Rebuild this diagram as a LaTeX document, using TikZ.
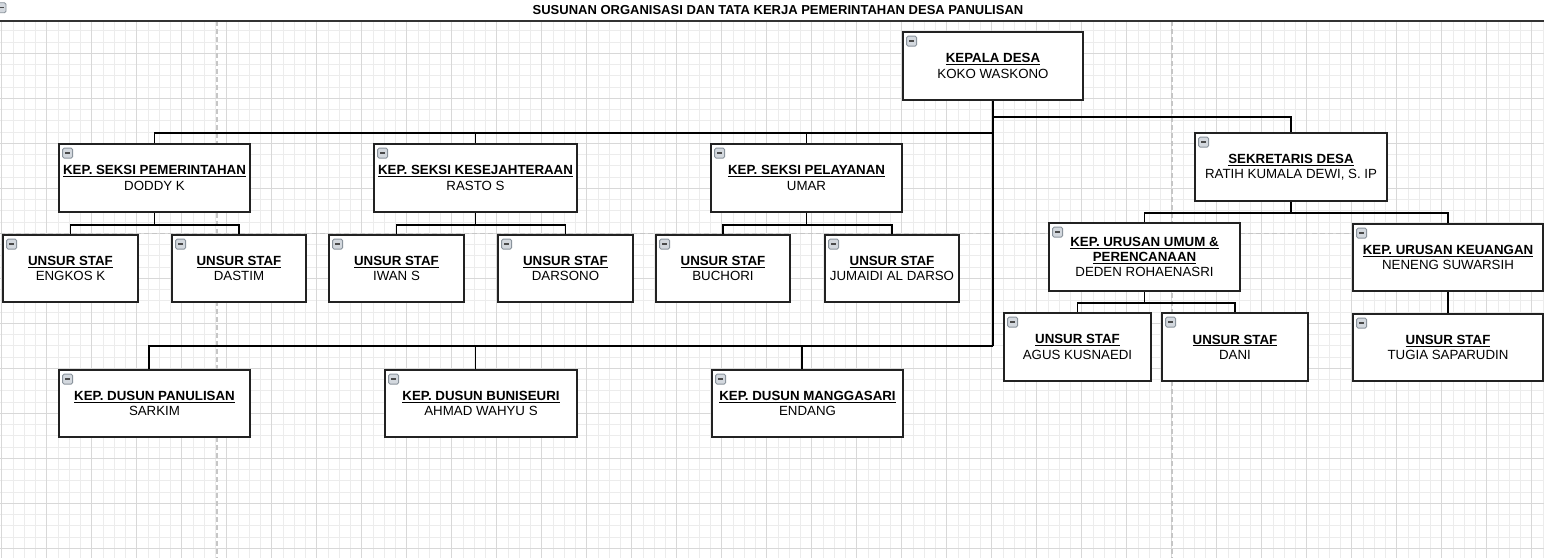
\documentclass[tikz,border=0pt]{standalone}
\usepackage{fontspec}
\setmainfont{Liberation Sans}
\usetikzlibrary{calc}
\pgfdeclarelayer{background}
\pgfsetlayers{background,main}
\definecolor{gridminor}{HTML}{ECECEC}
\definecolor{gridmajor}{HTML}{D8D8D8}
\definecolor{pagebrk}{HTML}{C6C6C6}
\definecolor{boxline}{HTML}{222222}
\definecolor{iconfill}{HTML}{D3D8DE}
\definecolor{iconline}{HTML}{8A939C}
\definecolor{iconminus}{HTML}{4A4A4A}
\definecolor{titleline}{HTML}{333333}
\tikzset{
  orgbox/.style={draw=boxline, line width=1.8pt, fill=white, inner sep=0pt,
    align=center, font=\fontsize{13.3}{15.2}\selectfont},
  conn/.style={draw=black, line width=1.8pt},
  minorline/.style={draw=gridminor, line width=0.8pt},
  majorline/.style={draw=gridmajor, line width=0.9pt},
  pagebreak/.style={draw=pagebrk, line width=1.3pt, dash pattern=on 5pt off 3pt},
  iconbox/.style={draw=iconline, fill=iconfill, line width=0.8pt, rounded corners=1.5pt},
  iconbar/.style={draw=iconminus, line width=1.4pt},
}
\newcommand{\hd}[1]{\underline{\textbf{#1}}}
\begin{document}
\begin{tikzpicture}[x=1pt, y=-1pt]
\useasboundingbox (0,0) rectangle (1544,558);
\begin{pgfonlayer}{background}
\fill[white] (0,0) rectangle (1544,558);
\begin{scope}
  \clip (0,21) rectangle (1544,558);
  \foreach \x in {1.7,12.95,...,1546} \draw[minorline] (\x,21) -- (\x,558);
  \foreach \y in {19.55,30.8,...,560} \draw[minorline] (0,\y) -- (1544,\y);
  \foreach \x in {1.7,46.7,...,1546} \draw[majorline] (\x,21) -- (\x,558);
  \foreach \y in {8.3,53.3,...,560} \draw[majorline] (0,\y) -- (1544,\y);
  \draw[pagebreak] (217,21) -- (217,558);
  \draw[pagebreak] (1172,21) -- (1172,558);
  \draw[pagebreak] (0,233.5) -- (1544,233.5);
\end{scope}
\end{pgfonlayer}
% title bar
\draw[draw=titleline, line width=2pt] (0,20.7) -- (1544,20.7);
\draw[iconbox] (-4,2.7) rectangle (6,12.7);
\draw[iconbar] (-1.5,7.7) -- (3.5,7.7);
\node[font=\bfseries\fontsize{13}{15}\selectfont, anchor=base, inner sep=0pt] (title) at (778,14)
  {SUSUNAN ORGANISASI DAN TATA KERJA PEMERINTAHAN DESA PANULISAN};

% boxes
\begin{scope}[every node/.append style={orgbox}]
\node[minimum width=180pt, minimum height=68pt] (kades) at (993,66) {\hd{KEPALA DESA}\\KOKO WASKONO};
\node[minimum width=191pt, minimum height=68pt] (seksi1) at (154.5,178) {\hd{KEP. SEKSI PEMERINTAHAN}\\DODDY K};
\node[minimum width=203pt, minimum height=68pt] (seksi2) at (475.5,178) {\hd{KEP. SEKSI KESEJAHTERAAN}\\RASTO S};
\node[minimum width=191pt, minimum height=68pt] (seksi3) at (806.5,178) {\hd{KEP. SEKSI PELAYANAN}\\UMAR};
\node[minimum width=192pt, minimum height=68pt] (sekdes) at (1291,167) {\hd{SEKRETARIS DESA}\\RATIH KUMALA DEWI, S. IP};
\node[minimum width=135pt, minimum height=67pt] (staf1) at (70.5,268.5) {\hd{UNSUR STAF}\\ENGKOS K};
\node[minimum width=134pt, minimum height=67pt] (staf2) at (239,268.5) {\hd{UNSUR STAF}\\DASTIM};
\node[minimum width=135pt, minimum height=67pt] (staf3) at (396.5,268.5) {\hd{UNSUR STAF}\\IWAN S};
\node[minimum width=135pt, minimum height=67pt] (staf4) at (565.5,268.5) {\hd{UNSUR STAF}\\DARSONO};
\node[minimum width=134pt, minimum height=67pt] (staf5) at (723,268.5) {\hd{UNSUR STAF}\\BUCHORI};
\node[minimum width=134pt, minimum height=67pt] (staf6) at (892,268.5) {\hd{UNSUR STAF}\\JUMAIDI AL DARSO};
\node[minimum width=191pt, minimum height=68pt] (urus1) at (1144.5,257) {\hd{KEP. URUSAN UMUM \&}\\\hd{PERENCANAAN}\\DEDEN ROHAENASRI};
\node[minimum width=190pt, minimum height=67pt] (urus2) at (1448,257.5) {\hd{KEP. URUSAN KEUANGAN}\\NENENG SUWARSIH};
\node[minimum width=147pt, minimum height=68pt] (staf7) at (1077.5,347) {\hd{UNSUR STAF}\\AGUS KUSNAEDI};
\node[minimum width=146pt, minimum height=68pt] (staf8) at (1235,347) {\hd{UNSUR STAF}\\DANI};
\node[minimum width=190pt, minimum height=67pt] (staf9) at (1448,347.5) {\hd{UNSUR STAF}\\TUGIA SAPARUDIN};
\node[minimum width=191pt, minimum height=67pt] (dusun1) at (154.5,403.5) {\hd{KEP. DUSUN PANULISAN}\\SARKIM};
\node[minimum width=192pt, minimum height=67pt] (dusun2) at (481,403.5) {\hd{KEP. DUSUN BUNISEURI}\\AHMAD WAHYU S};
\node[minimum width=191pt, minimum height=67pt] (dusun3) at (807.5,403.5) {\hd{KEP. DUSUN MANGGASARI}\\ENDANG};
\end{scope}

% collapse icons
\foreach \n in {kades,seksi1,seksi2,seksi3,sekdes,staf1,staf2,staf3,staf4,staf5,staf6,urus1,urus2,staf7,staf8,staf9,dusun1,dusun2,dusun3}{
  \draw[iconbox] ($(\n.north west)+(4.5,5)$) rectangle ++(10,10);
  \draw[iconbar] ($(\n.north west)+(7,10)$) -- ++(5,0);
}

% connectors (behind boxes)
\begin{pgfonlayer}{background}
\coordinate (jB) at (993,117);
\coordinate (jA) at (993,133);
\coordinate (jC) at (993,346);
\draw[conn] (kades.south) -- (jC);
\draw[conn] (jA) -| (seksi1.north);
\draw[conn] (jA) -| (seksi2.north);
\draw[conn] (jA) -| (seksi3.north);
\draw[conn] (jB) -| (sekdes.north);
\draw[conn] (jC) -| ($(dusun1.north)+(-5.5,0)$);
\draw[conn] (jC) -| ($(dusun2.north)+(-5.5,0)$);
\draw[conn] (jC) -| ($(dusun3.north)+(-5.5,0)$);
\coordinate (s1j) at ($(seksi1.south)+(0,12)$);
\coordinate (s2j) at ($(seksi2.south)+(0,12)$);
\coordinate (s3j) at ($(seksi3.south)+(0,12)$);
\draw[conn] (seksi1.south) -- (s1j) -| (staf1.north);
\draw[conn] (s1j) -| (staf2.north);
\draw[conn] (seksi2.south) -- (s2j) -| (staf3.north);
\draw[conn] (s2j) -| (staf4.north);
\draw[conn] (seksi3.south) -- (s3j) -| (staf5.north);
\draw[conn] (s3j) -| (staf6.north);
\coordinate (sdj) at ($(sekdes.south)+(0,11)$);
\draw[conn] (sekdes.south) -- (sdj) -| (urus1.north);
\draw[conn] (sdj) -| (urus2.north);
\coordinate (u1j) at ($(urus1.south)+(0,11)$);
\draw[conn] (urus1.south) -- (u1j) -| (staf7.north);
\draw[conn] (u1j) -| (staf8.north);
\draw[conn] (urus2.south) -- (staf9.north);
\end{pgfonlayer}
\end{tikzpicture}
\end{document}
